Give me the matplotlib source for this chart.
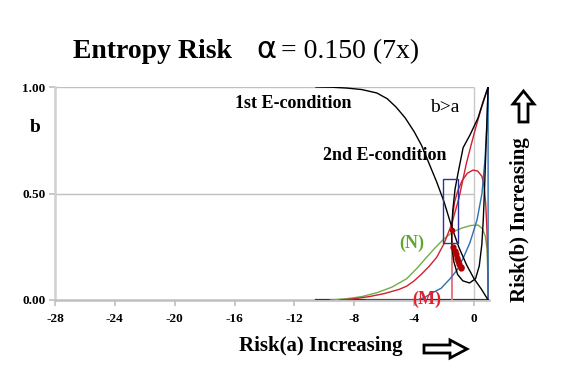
import numpy as np
import matplotlib.pyplot as plt
from matplotlib.patches import Polygon, Rectangle

# -----------------------------------------------------
# Entropy Risk chart, alpha = 0.150 (7x)
# -----------------------------------------------------

x_ticks = [-28, -24, -20, -16, -12, -8, -4, 0]
y_ticks = [0.0, 0.5, 1.0]
y_labels = ["0.00", "0.50", "1.00"]

# 1st E-condition (black, falling)
first_x = [-10.56, -9.5, -8.5, -7.5, -6.5, -5.8, -5.2, -4.6, -4.0, -3.5, -3.0,
           -2.5, -2.0, -1.5, -1.0, -0.5, 0.0, 0.5, 0.94]
first_b = [1.0, 0.999, 0.995, 0.988, 0.972, 0.945, 0.905, 0.855, 0.79, 0.725, 0.64,
           0.555, 0.46, 0.345, 0.245, 0.165, 0.1, 0.05, 0.0]

# b>a curve with its loop (black)
loop_x = [0.94, 0.6, 0.27, -0.27, -0.73, -1.07, -1.27, -1.42, -1.5, -1.48, -1.35,
          -1.1, -0.75, -0.3, 0.1, 0.35, 0.52, 0.62, 0.7, 0.78, 0.86, 0.94]
loop_b = [1.0, 0.93, 0.855, 0.775, 0.715, 0.595, 0.52, 0.42, 0.33, 0.25, 0.18,
          0.12, 0.09, 0.08, 0.1, 0.16, 0.26, 0.38, 0.52, 0.68, 0.84, 1.0]

# floor line at b = 0 (black)
floor_x = [-10.56, 0.94]
floor_b = [0.0, 0.0]

# red rising curve
red_x = [-8.96, -8.0, -7.0, -6.0, -5.0, -4.5, -4.0, -3.5, -3.0, -2.5, -2.0,
         -1.5, -1.0, -0.5, 0.0, 0.4, 0.94]
red_b = [0.0, 0.006, 0.016, 0.03, 0.05, 0.065, 0.09, 0.122, 0.158, 0.2, 0.265,
         0.355, 0.48, 0.645, 0.78, 0.88, 1.0]

# red loop (M) and its vertical line
mloop_x = [-1.47, -1.42, -1.3, -1.1, -0.8, -0.45, -0.07, 0.25, 0.53, 0.68, 0.78,
           0.85, 0.9, 0.93, 0.94]
mloop_b = [0.33, 0.4, 0.46, 0.51, 0.56, 0.595, 0.61, 0.605, 0.58, 0.53, 0.45,
           0.35, 0.24, 0.12, 0.0]
mline_x = [-1.47, -1.47]
mline_b = [0.0, 0.33]

# blue curve
blue_x = [-7.2, -3.8, -3.3, -2.75, -2.2, -1.6, -1.14, -0.7, -0.27, 0.2, 0.53,
          0.73, 0.87, 0.94, 0.94]
blue_b = [0.0, 0.0, 0.012, 0.035, 0.055, 0.1, 0.14, 0.2, 0.27, 0.376, 0.5,
          0.66, 0.83, 1.0, 0.0]

# green curve (N)
green_x = [-9.6, -8.5, -7.5, -6.5, -5.5, -4.5, -3.8, -3.2, -2.6, -2.0, -1.4,
           -0.8, -0.2, 0.27, 0.55, 0.75, 0.87, 0.92, 0.94]
green_b = [0.0, 0.006, 0.016, 0.034, 0.06, 0.1, 0.15, 0.198, 0.245, 0.288, 0.32,
           0.338, 0.35, 0.352, 0.335, 0.3, 0.24, 0.12, 0.0]

# equilibrium points (dark red)
dots_x = [-1.47, -1.38, -1.3, -1.22, -1.14, -1.06, -0.98, -0.9, -0.84]
dots_b = [0.33, 0.25, 0.232, 0.215, 0.198, 0.182, 0.168, 0.156, 0.148]

# box around the 2nd E-condition
box_x = [-2.05, -1.05]
box_b = [0.266, 0.567]

# -----------------------------------------------------

plt.rcParams["axes.unicode_minus"] = False

W, H = 575, 382
fig = plt.figure(figsize=(W / 100, H / 100), dpi=100)
ax = fig.add_axes([55 / W, (H - 300) / H, (489 - 55) / W, 213 / H])

serif = "Liberation Serif"

def fx(px):
    return px / W

def fy(py):
    return 1 - py / H

# grid
ax.hlines(y_ticks[1:], x_ticks[0], x_ticks[-1], colors="#c0c0c0", lw=1, zorder=1)
ax.vlines(x_ticks[-1], y_ticks[0], y_ticks[-1], colors="#c8c8c8", lw=1, zorder=1)

ax.plot(floor_x, floor_b, color="#333340", lw=1.6, zorder=3)
ax.plot(first_x, first_b, color="black", lw=1.0, zorder=4)
ax.plot(loop_x, loop_b, color="black", lw=1.0, zorder=4)
ax.plot(green_x, green_b, color="#70ad47", lw=1.0, zorder=3)
ax.plot(red_x, red_b, color="#d0202e", lw=1.0, zorder=3)
ax.plot(mloop_x, mloop_b, color="#d0202e", lw=1.0, zorder=3)
ax.plot(mline_x, mline_b, color="#e87880", lw=1.4, zorder=3)
ax.plot(blue_x, blue_b, color="#2e6eb0", lw=1.0, zorder=3)
ax.plot(dots_x[:1], dots_b[:1], "o", color="#b00000", ms=3, zorder=5)
ax.plot(dots_x[1:], dots_b[1:], "o", color="#b00000", ms=3.5, zorder=5)
ax.add_patch(Rectangle((box_x[0], box_b[0]), box_x[1] - box_x[0], box_b[1] - box_b[0],
                       fill=False, ec="#3030a0", lw=1.0, zorder=5))

ax.set_xlim(-28, 1)
ax.set_ylim(0, 1)
ax.set_xticks(x_ticks)
ax.set_yticks(y_ticks)
ax.set_yticklabels(y_labels)
for s in ["top", "right"]:
    ax.spines[s].set_visible(False)
ax.spines["left"].set_color("#d0d0d0")
ax.spines["left"].set_linewidth(1.8)
ax.spines["bottom"].set_color("#bfbfbf")
ax.spines["bottom"].set_linewidth(1.8)
ax.tick_params(colors="#bfbfbf", length=4, width=1.2)
ax.tick_params(axis="x", pad=5)
ax.tick_params(axis="y", pad=3)
for lab in ax.get_xticklabels() + ax.get_yticklabels():
    lab.set_fontfamily(serif)
    lab.set_fontweight("bold")
    lab.set_fontsize(9.5)
    lab.set_color("black")

# title
fig.text(fx(73), fy(58), "Entropy Risk", family=serif, weight="bold", fontsize=20, va="baseline")
fig.text(fx(256), fy(58), "\u03b1", family="DejaVu Sans", fontsize=22, va="baseline")
fig.text(fx(281), fy(58), "= 0.150 (7x)", family=serif, fontsize=20, va="baseline")

# annotations
fig.text(fx(235), fy(104), "1st E-condition", family=serif, weight="bold", fontsize=13, va="center")
fig.text(fx(323), fy(156), "2nd E-condition", family=serif, weight="bold", fontsize=13, va="center")
fig.text(fx(430), fy(108), "b>a", family=serif, fontsize=14, va="center")
fig.text(fx(412), fy(243), "(N)", family=serif, weight="bold", fontsize=13, color="#5ea832",
         ha="center", va="center")
fig.text(fx(427), fy(299), "(M)", family=serif, weight="bold", fontsize=13, color="#e0202e",
         ha="center", va="center")
fig.text(fx(35), fy(128), "b", family=serif, weight="bold", fontsize=14, ha="center", va="center")

fig.text(fx(321), fy(346), "Risk(a) Increasing", family=serif, weight="bold", fontsize=15,
         ha="center", va="center")
fig.text(fx(520), fy(220), "Risk(b) Increasing", family=serif, weight="bold", fontsize=15,
         ha="center", va="center", rotation=90)

# hollow arrows
up = [(523.5, 91), (534, 104), (528, 104), (528, 122), (519, 122), (519, 104), (513, 104)]
right = [(467, 349), (450, 340), (450, 345), (424, 345), (424, 353), (450, 353), (450, 358)]
for pts in (up, right):
    fig.patches.append(Polygon([(fx(a), fy(b)) for a, b in pts], closed=True,
                               transform=fig.transFigure, fc="white", ec="black", lw=2))

fig.savefig("out.png", dpi=100)
